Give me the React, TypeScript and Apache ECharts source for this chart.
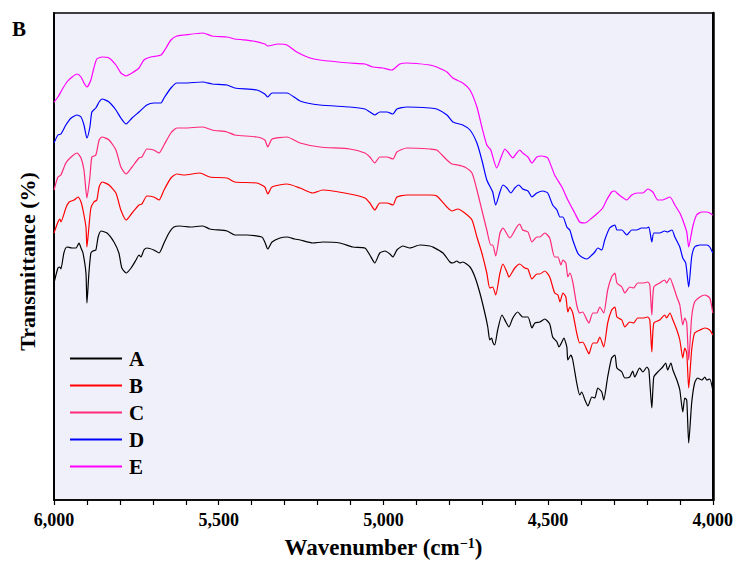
import React, { useEffect, useRef } from "react";
import * as echarts from "echarts";

const seriesNames = ["A", "B", "C", "D", "E"];
const seriesColors = ["#000000", "#ff0000", "#ff2a78", "#0000ff", "#ff00ff"];
const xTicks = [6000, 5500, 5000, 4500, 4000];
const panelLabel = "B";

// [wavenumber (cm-1), transmittance (arbitrary offset units)]
const seriesA = [
  [6000,217],[5988,232],[5982,233],[5979,231],[5970,247],[5961,253],[5945,252],[5933,252],[5924,257],[5918,252],
  [5912,247],[5903,227],[5900,197],[5894,227],[5888,247],[5882,249],[5873,250],[5866,263],[5857,269],[5839,267],
  [5818,258],[5803,247],[5794,232],[5781,227],[5766,232],[5751,240],[5742,245],[5736,243],[5727,250],[5718,252],
  [5697,250],[5681,247],[5666,257],[5651,267],[5636,273],[5618,274],[5587,273],[5548,274],[5527,271],[5475,269],
  [5451,265],[5414,265],[5369,263],[5360,258],[5351,251],[5338,258],[5314,262],[5293,263],[5269,261],[5253,260],
  [5214,257],[5184,258],[5132,257],[5093,253],[5056,252],[5041,245],[5026,237],[5011,247],[4995,249],[4980,246],
  [4971,243],[4959,250],[4941,254],[4920,252],[4889,255],[4859,254],[4850,253],[4819,247],[4798,238],[4789,237],
  [4777,239],[4768,237],[4759,238],[4737,233],[4722,223],[4707,207],[4692,187],[4683,173],[4677,160],[4671,162],
  [4668,158],[4662,155],[4653,170],[4640,185],[4628,178],[4619,173],[4607,182],[4592,188],[4577,183],[4561,183],
  [4549,172],[4540,177],[4525,178],[4510,181],[4495,176],[4486,163],[4473,158],[4467,153],[4458,158],[4452,162],
  [4443,153],[4440,140],[4431,145],[4425,140],[4413,117],[4404,105],[4398,108],[4388,100],[4379,94],[4367,103],
  [4358,102],[4349,112],[4337,108],[4331,100],[4319,123],[4307,142],[4297,145],[4291,132],[4276,128],[4267,122],
  [4252,123],[4243,129],[4237,123],[4222,132],[4212,128],[4200,133],[4194,130],[4185,92],[4179,123],[4167,128],
  [4152,133],[4143,137],[4137,130],[4127,137],[4121,130],[4109,120],[4100,110],[4091,88],[4085,102],[4079,100],
  [4073,57],[4064,97],[4055,117],[4046,122],[4033,120],[4024,123],[4018,120],[4009,121],[4000,110],
];

const seriesB = [
  [6000,267],[5988,278],[5982,281],[5979,278],[5964,292],[5954,298],[5939,300],[5927,303],[5918,298],[5912,290],
  [5903,273],[5900,253],[5894,273],[5888,292],[5879,298],[5870,300],[5863,313],[5854,318],[5833,315],[5812,307],
  [5797,290],[5781,280],[5763,287],[5742,295],[5733,296],[5718,304],[5697,303],[5681,300],[5666,310],[5645,322],
  [5627,326],[5605,325],[5557,327],[5527,323],[5475,322],[5451,318],[5384,317],[5360,313],[5351,306],[5338,313],
  [5293,316],[5253,312],[5214,307],[5184,310],[5102,306],[5056,302],[5041,297],[5026,290],[5011,297],[4989,297],
  [4971,295],[4959,303],[4929,305],[4859,305],[4838,304],[4807,293],[4792,289],[4774,291],[4753,287],[4731,280],
  [4716,263],[4701,247],[4686,227],[4677,212],[4668,213],[4659,205],[4646,227],[4637,236],[4625,228],[4619,223],
  [4601,232],[4586,236],[4571,232],[4561,231],[4549,221],[4534,226],[4525,226],[4510,229],[4495,223],[4480,207],
  [4470,205],[4464,198],[4455,207],[4446,203],[4440,188],[4434,193],[4425,187],[4413,167],[4404,157],[4395,158],
  [4382,150],[4376,146],[4364,157],[4352,157],[4343,163],[4331,153],[4319,177],[4307,190],[4297,193],[4291,183],
  [4276,180],[4267,173],[4252,178],[4240,177],[4228,182],[4212,182],[4197,183],[4191,180],[4185,148],[4179,177],
  [4161,180],[4146,185],[4140,182],[4130,187],[4121,180],[4109,170],[4100,160],[4091,142],[4085,152],[4079,147],
  [4073,112],[4064,150],[4055,167],[4039,170],[4024,172],[4009,170],[4000,165],
];

const seriesC = [
  [6000,310],[5988,323],[5979,325],[5964,337],[5948,343],[5930,347],[5918,342],[5909,330],[5900,302],[5891,323],
  [5885,343],[5873,345],[5863,360],[5854,363],[5833,360],[5812,350],[5797,333],[5781,326],[5763,333],[5742,342],
  [5733,343],[5718,351],[5697,350],[5681,347],[5666,355],[5645,367],[5627,372],[5605,372],[5548,373],[5520,370],
  [5475,368],[5451,365],[5384,363],[5360,360],[5351,353],[5338,361],[5293,363],[5253,357],[5193,353],[5102,351],
  [5056,347],[5041,343],[5026,337],[5011,343],[4989,343],[4971,341],[4959,348],[4929,352],[4859,351],[4838,350],
  [4807,340],[4792,336],[4774,335],[4753,333],[4731,327],[4716,310],[4701,290],[4686,270],[4674,255],[4668,255],
  [4659,244],[4646,267],[4637,272],[4616,262],[4595,273],[4586,276],[4577,270],[4561,268],[4549,258],[4534,263],
  [4525,263],[4510,267],[4495,262],[4480,243],[4470,243],[4461,235],[4455,240],[4446,237],[4440,223],[4434,227],
  [4425,218],[4413,195],[4404,187],[4395,188],[4382,180],[4376,177],[4364,187],[4352,187],[4343,193],[4331,187],
  [4319,210],[4307,223],[4297,227],[4291,217],[4276,213],[4267,207],[4252,213],[4240,212],[4228,217],[4212,217],
  [4197,218],[4191,215],[4185,185],[4179,213],[4161,217],[4146,220],[4140,217],[4130,222],[4121,215],[4109,203],
  [4100,195],[4091,175],[4085,182],[4079,177],[4073,140],[4064,183],[4055,198],[4039,203],[4024,205],[4009,202],
  [4000,187],
];

const seriesD = [
  [6000,357],[5988,365],[5979,366],[5964,375],[5948,382],[5930,385],[5918,383],[5909,375],[5900,362],[5891,373],
  [5885,388],[5873,392],[5863,398],[5854,401],[5833,398],[5812,390],[5797,382],[5781,376],[5763,382],[5742,388],
  [5718,395],[5697,397],[5675,397],[5666,402],[5645,412],[5627,417],[5605,417],[5548,418],[5520,416],[5475,415],
  [5451,412],[5384,410],[5360,406],[5351,403],[5338,407],[5293,407],[5253,399],[5193,395],[5102,393],[5056,391],
  [5041,388],[5026,385],[5011,388],[4989,388],[4971,386],[4959,391],[4929,393],[4859,392],[4838,391],[4807,385],
  [4789,378],[4759,375],[4737,370],[4716,357],[4701,340],[4686,320],[4674,312],[4668,308],[4659,295],[4646,308],
  [4637,315],[4625,312],[4613,307],[4601,312],[4589,315],[4577,311],[4561,309],[4549,303],[4534,307],[4516,309],
  [4501,307],[4486,295],[4473,290],[4464,283],[4455,283],[4443,273],[4434,270],[4425,260],[4410,247],[4398,243],
  [4382,241],[4367,245],[4358,248],[4349,252],[4337,250],[4328,260],[4313,272],[4297,275],[4291,270],[4276,270],
  [4261,265],[4246,270],[4231,270],[4216,272],[4200,272],[4194,273],[4185,258],[4179,267],[4161,267],[4146,269],
  [4137,268],[4124,270],[4115,263],[4100,253],[4091,242],[4082,237],[4073,213],[4064,243],[4055,253],[4039,255],
  [4018,255],[4009,253],[4000,247],
];

const seriesE = [
  [6000,398],[5988,403],[5976,410],[5961,418],[5945,423],[5930,426],[5918,423],[5909,417],[5900,413],[5888,420],
  [5879,432],[5870,441],[5854,443],[5833,442],[5812,435],[5797,427],[5781,424],[5763,427],[5742,432],[5727,440],
  [5706,443],[5675,445],[5660,452],[5645,460],[5627,464],[5605,465],[5548,467],[5520,464],[5475,463],[5451,461],
  [5396,459],[5360,456],[5351,454],[5320,456],[5293,455],[5263,448],[5223,442],[5193,440],[5102,437],[5056,436],
  [5032,433],[5002,432],[4974,430],[4950,436],[4929,437],[4859,435],[4838,433],[4807,428],[4789,422],[4759,417],
  [4737,410],[4716,393],[4701,373],[4686,355],[4674,350],[4656,332],[4640,345],[4631,351],[4622,348],[4607,342],
  [4595,347],[4586,350],[4577,347],[4561,343],[4549,337],[4534,343],[4519,344],[4501,342],[4480,325],[4458,313],
  [4440,300],[4419,287],[4404,278],[4388,277],[4367,282],[4349,287],[4334,292],[4322,300],[4307,308],[4297,309],
  [4291,307],[4276,303],[4261,300],[4246,305],[4228,307],[4212,307],[4197,311],[4182,308],[4167,300],[4152,300],
  [4130,303],[4115,295],[4100,287],[4091,280],[4079,268],[4073,253],[4061,273],[4049,285],[4033,288],[4018,288],
  [4009,287],[4000,285],
];

const allSeries = [seriesA, seriesB, seriesC, seriesD, seriesE];
const FONT = "'Liberation Serif', 'Times New Roman', serif";

export default function App() {
  const ref = useRef<HTMLDivElement>(null);
  useEffect(() => {
    if (!ref.current) return;
    const chart = echarts.init(ref.current, null, { renderer: "svg" });
    chart.setOption({
      animation: false,
      backgroundColor: "#ffffff",
      grid: {
        left: 54,
        right: 23,
        top: 13,
        bottom: 65,
        show: true,
        backgroundColor: "#f0f0fb",
        borderColor: "#000",
        borderWidth: 1.5,
      },
      xAxis: {
        type: "value",
        inverse: true,
        min: xTicks[xTicks.length - 1],
        max: xTicks[0],
        interval: 500,
        name: "Wavenumber (cm{s|−1})",
        nameLocation: "middle",
        nameGap: 36,
        nameTextStyle: {
          fontFamily: FONT,
          fontWeight: "bold",
          fontSize: 23,
          color: "#000",
          rich: {
            s: { fontFamily: FONT, fontWeight: "bold", fontSize: 14, verticalAlign: "top", color: "#000" },
          },
        },
        axisLine: { show: true, onZero: false, lineStyle: { color: "#000", width: 1.5 } },
        axisTick: { show: true, length: 5, lineStyle: { color: "#000", width: 1.2 } },
        minorTick: { show: true, splitNumber: 5, length: 5, lineStyle: { color: "#000", width: 1.2 } },
        axisLabel: {
          fontFamily: FONT,
          fontWeight: "bold",
          fontSize: 18,
          color: "#000",
          margin: 11,
          formatter: (v: number) => v.toLocaleString("en-US"),
        },
        splitLine: { show: false },
      },
      yAxis: [
        {
          type: "value",
          min: 0,
          max: 487,
          name: "Transmittance (%)",
          nameLocation: "middle",
          nameGap: 16,
          nameTextStyle: { fontFamily: FONT, fontWeight: "bold", fontSize: 22, color: "#000", padding: [0, 10, 0, 0] },
          axisLine: { show: true, lineStyle: { color: "#000", width: 2 } },
          axisTick: { show: false },
          axisLabel: { show: false },
          splitLine: { show: false },
        },
        {
          type: "value",
          position: "right",
          min: 0,
          max: 487,
          axisLine: { show: true, onZero: false, lineStyle: { color: "#000", width: 2.5 } },
          axisTick: { show: false },
          axisLabel: { show: false },
          splitLine: { show: false },
        },
      ],
      legend: {
        orient: "vertical",
        left: 65,
        top: 343,
        itemWidth: 52,
        itemHeight: 2,
        itemGap: 6,
        icon: "rect",
        textStyle: { fontFamily: FONT, fontWeight: "bold", fontSize: 21, color: "#000", padding: [0, 0, 0, 2] },
        data: seriesNames,
      },
      graphic: [
        {
          type: "text",
          left: 12,
          top: 18,
          style: { text: panelLabel, font: `bold 21px ${FONT}`, fill: "#000" },
        },
      ],
      series: seriesNames.map((name, i) => ({
        name,
        type: "line",
        yAxisIndex: 0,
        data: allSeries[i],
        showSymbol: false,
        smooth: 0.2,
        lineStyle: { color: seriesColors[i], width: 1.2 },
        itemStyle: { color: seriesColors[i] },
      })),
    });
    return () => chart.dispose();
  }, []);
  return <div ref={ref} style={{ position: "fixed", left: 0, top: 0, width: 736, height: 565 }} />;
}
